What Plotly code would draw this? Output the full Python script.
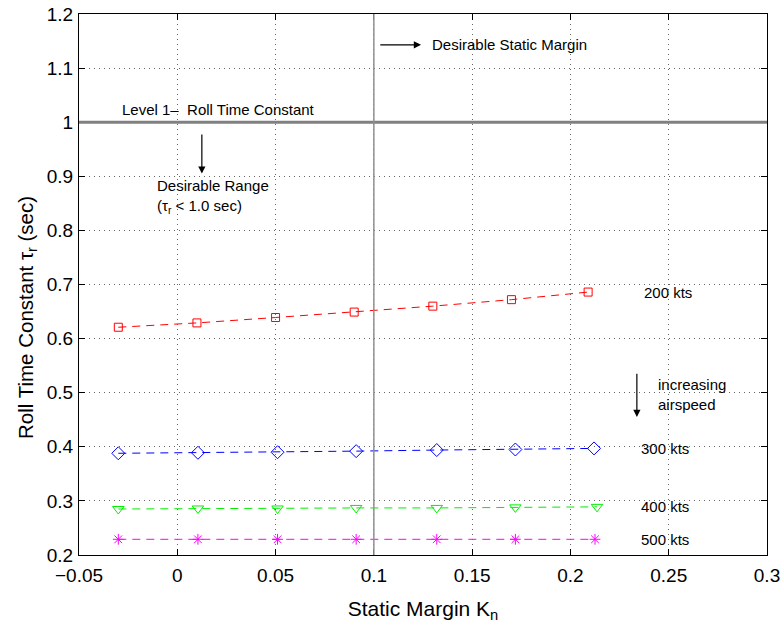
import plotly.graph_objects as go

# Data
kn_200 = [-0.03, 0.010, 0.050, 0.090, 0.130, 0.170, 0.209]
tau_200 = [0.621, 0.629, 0.639, 0.649, 0.660, 0.672, 0.686]
kn_300 = [-0.03, 0.0105, 0.051, 0.091, 0.132, 0.172, 0.212]
tau_300 = [0.388, 0.389, 0.390, 0.392, 0.394, 0.395, 0.397]
kn_400 = [-0.03, 0.0105, 0.051, 0.091, 0.132, 0.172, 0.2135]
tau_400 = [0.285, 0.286, 0.286, 0.287, 0.287, 0.288, 0.289]
kn_500 = [-0.03, 0.0105, 0.051, 0.091, 0.132, 0.172, 0.2125]
tau_500 = [0.229, 0.229, 0.229, 0.229, 0.229, 0.229, 0.229]
x_ticks = [-0.05, 0, 0.05, 0.1, 0.15, 0.2, 0.25, 0.3]
x_ticktext = ["−0.05", "0", "0.05", "0.1", "0.15", "0.2", "0.25", "0.3"]
y_ticks = [0.2, 0.3, 0.4, 0.5, 0.6, 0.7, 0.8, 0.9, 1.0, 1.1, 1.2]
y_ticktext = ["0.2", "0.3", "0.4", "0.5", "0.6", "0.7", "0.8", "0.9", "1", "1.1", "1.2"]
level1_tau = 1.0
desirable_kn = 0.1
label_x = [0.2365, 0.235, 0.235, 0.235]

FONT = "Liberation Sans, Arial, sans-serif"
ANN = dict(size=15, color="black", family=FONT)

series = [
    (kn_200, tau_200, "#ff0000", "square-open", 8, "200 kts"),
    (kn_300, tau_300, "#0000ff", "diamond-open", 10, "300 kts"),
    (kn_400, tau_400, "#00ee00", "triangle-down-open", 10, "400 kts"),
    (kn_500, tau_500, "#ff00ff", "asterisk-open", 9, "500 kts"),
]

fig = go.Figure()
for (xs, ys, col, sym, sz, name), lx in zip(series, label_x):
    fig.add_trace(go.Scatter(
        x=xs, y=ys, mode="lines+markers", name=name,
        line=dict(color=col, width=1, dash="8px,6px"),
        marker=dict(symbol=sym, size=sz, color=col, line=dict(color=col, width=1)),
        showlegend=False,
    ))
    fig.add_annotation(x=lx, y=ys[-1], text=name, showarrow=False,
                       xanchor="left", yanchor="middle", font=ANN)

# Reference lines
fig.add_shape(type="line", xref="paper", x0=0, x1=1, y0=level1_tau, y1=level1_tau,
              line=dict(color="#808080", width=3))
fig.add_shape(type="line", yref="paper", y0=0, y1=1, x0=desirable_kn, x1=desirable_kn,
              line=dict(color="#909090", width=1.5))

# Text annotations
fig.add_annotation(x=-0.029, y=1.0, text="Level 1–  Roll Time Constant", showarrow=False,
                   xanchor="left", yanchor="bottom", yshift=2, font=ANN)
fig.add_annotation(x=0.0125, y=0.905, ax=0.0125, ay=0.98, xref="x", yref="y", axref="x", ayref="y",
                   text="", showarrow=True, arrowhead=2, arrowsize=1.2, arrowwidth=1.2, arrowcolor="black")
fig.add_annotation(x=-0.0115, y=0.862, text="Desirable Range<br>(τ<sub>r</sub> < 1.0 sec)", showarrow=False,
                   xanchor="left", yanchor="middle", align="left", font=ANN)
fig.add_annotation(x=0.124, y=1.143, ax=0.1025, ay=1.143, xref="x", yref="y", axref="x", ayref="y",
                   text="", showarrow=True, arrowhead=2, arrowsize=1.2, arrowwidth=1.2, arrowcolor="black")
fig.add_annotation(x=0.1285, y=1.143, text="Desirable Static Margin", showarrow=False,
                   xanchor="left", yanchor="middle", font=ANN)
fig.add_annotation(x=0.2338, y=0.455, ax=0.2338, ay=0.538, xref="x", yref="y", axref="x", ayref="y",
                   text="", showarrow=True, arrowhead=2, arrowsize=1.2, arrowwidth=1.2, arrowcolor="black")
fig.add_annotation(x=0.2435, y=0.496, text="increasing<br>airspeed", showarrow=False,
                   xanchor="left", yanchor="middle", align="left", font=ANN)

# y-axis title as rotated annotation (positioned like the reference)
fig.add_annotation(xref="paper", yref="paper", x=-0.0756, y=0.44, textangle=-90,
                   text="Roll Time Constant τ<sub>r</sub> (sec)", showarrow=False,
                   xanchor="center", yanchor="middle",
                   font=dict(size=20.5, color="black", family=FONT))

axis_common = dict(
    showgrid=True, gridcolor="#666666", griddash="1px,4px", gridwidth=1,
    zeroline=False, showline=True, linecolor="black", linewidth=1, mirror="ticks",
    ticks="inside", ticklen=6, tickcolor="black", automargin=False,
    tickfont=dict(size=19, color="black", family=FONT),
)

fig.update_xaxes(range=[-0.05, 0.3], tickvals=x_ticks, ticktext=x_ticktext,
                 title=dict(text="Static Margin K<sub>n</sub>", font=dict(size=21, color="black", family=FONT), standoff=16),
                 ticklabelstandoff=3, **axis_common)
fig.update_yaxes(range=[0.2, 1.2], tickvals=y_ticks, ticktext=y_ticktext,
                 ticklabelstandoff=1, **axis_common)

fig.update_layout(
    width=784, height=631,
    margin=dict(l=79, r=17, t=14, b=76),
    plot_bgcolor="white", paper_bgcolor="white",
    font=dict(family=FONT, color="black"),
)

fig.write_html("out.html")
